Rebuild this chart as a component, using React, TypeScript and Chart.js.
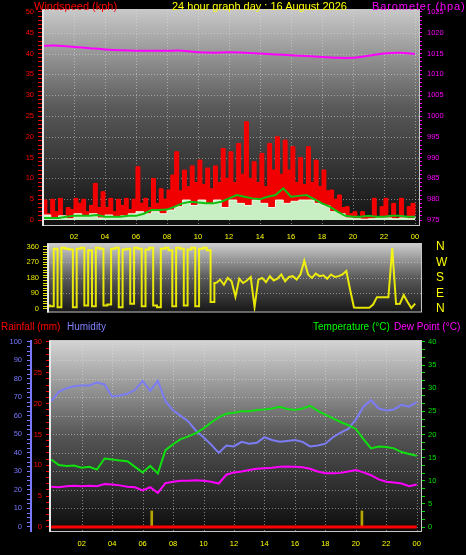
import { useEffect, useRef } from 'react';
import { Chart, registerables } from 'chart.js';
Chart.register(...registerables);

const FONT = "'Liberation Sans', Arial, sans-serif";

// ---------- time axis ----------
const hourTickValues = [2, 4, 6, 8, 10, 12, 14, 16, 18, 20, 22, 24];
const hourTickLabels = ['02', '04', '06', '08', '10', '12', '14', '16', '18', '20', '22', '00'];

// ---------- top panel: wind + barometer ----------
const windTickLabels = [0, 5, 10, 15, 20, 25, 30, 35, 40, 45, 50];
const baroTickLabels = [975, 980, 985, 990, 995, 1000, 1005, 1010, 1015, 1020, 1025];
const baroHours = [0, 1, 2, 3, 4, 5, 6, 7, 8, 9, 10, 11, 12, 13, 14, 15, 16, 17, 18, 19, 20, 21, 22, 23, 24];
const baroHpa = [1016.9, 1016.9, 1016.6, 1016.3, 1016.0, 1015.8, 1015.7, 1015.7, 1015.7, 1015.7, 1015.3, 1015.2, 1015.3, 1015.2, 1015.0, 1014.8, 1014.6, 1014.4, 1014.2, 1014.0, 1014.0, 1014.5, 1015.0, 1015.2, 1014.9];
// gusts, every 15 minutes
const gustKph = [
  4.8, 1.5, 5.0, 2.0,
  5.2, 1.0, 3.0, 2.5,
  5.2, 4.0, 5.0, 2.0,
  3.5, 8.8, 3.0, 6.8,
  3.0, 5.2, 2.0, 5.0,
  3.5, 5.2, 2.5, 5.0,
  12.8, 4.0, 5.2, 3.0,
  10.0, 4.0, 7.5, 5.0,
  7.2, 10.8, 16.4, 7.0,
  12.0, 8.0, 13.0, 9.0,
  14.4, 8.5, 12.5, 7.5,
  13.0, 9.0, 17.2, 10.0,
  16.4, 9.0, 18.4, 11.0,
  23.6, 10.0, 14.0, 9.0,
  16.0, 8.0, 18.4, 12.0,
  20.0, 11.0, 19.2, 12.0,
  17.6, 9.0, 15.0, 8.5,
  17.6, 9.0, 14.4, 8.0,
  12.0, 7.0, 7.2, 5.0,
  6.0, 3.0, 3.2, 1.5,
  2.0, 0.5, 2.0, 1.0,
  1.0, 5.2, 0.5, 3.2,
  5.2, 1.0, 4.0, 0.5,
  5.2, 0.5, 3.2, 4.0,
  1.5,
];
// wind speed, every 30 minutes
const windKph = [1.2, 0.5, 1.0, 0.3, 1.5, 1.0, 1.5, 0.5, 1.2, 0.8, 1.0, 1.5, 2.0, 1.5, 2.0, 1.5, 2.4, 3.2, 4.8, 3.5, 4.8, 4.0, 4.8, 3.0, 4.8, 4.0, 3.5, 4.8, 4.0, 3.0, 4.8, 4.0, 4.5, 4.8, 4.8, 4.0, 3.5, 2.0, 1.5, 0.5, 0.3, 0.2, 0.3, 0.5, 0.5, 0.3, 0.5, 0.3, 1.0];
// average wind, every 30 minutes
const avgKph = [0.5, 0.5, 0.5, 0.8, 1.0, 1.0, 1.0, 1.2, 0.8, 0.8, 0.8, 1.0, 1.0, 1.5, 2.4, 2.4, 2.5, 3.2, 4.0, 4.4, 4.2, 4.0, 4.0, 4.4, 5.2, 6.0, 5.6, 5.2, 5.0, 5.6, 6.0, 7.6, 5.6, 5.8, 6.0, 5.0, 4.0, 3.2, 2.0, 1.0, 0.8, 0.8, 1.0, 0.8, 0.8, 1.0, 1.0, 0.8, 0.8];

// ---------- middle panel: wind direction ----------
const dirTickLabels = [0, 90, 180, 270, 360];
const compassValues = [0, 90, 180, 270, 360];
const compassLabels = ['N', 'E', 'S', 'W', 'N'];
// every 15 minutes; first 44 samples (variable north wind) flip between ~0 and ~360
const dirDeg = [
  20, 15, 350, 10,
  355, 350, 345, 10,
  350, 355, 20, 340,
  15, 355, 350, 20,
  25, 350, 355, 10,
  345, 350, 30, 355,
  350, 15, 345, 355,
  20, 10, 350, 355,
  340, 15, 355, 350,
  20, 345, 355, 15,
  350, 355, 340, 40,
  150, 170, 140, 180,
  160, 70, 175, 150,
  165, 185, 10, 170,
  180, 155, 190, 165,
  175, 200, 160, 185,
  190, 170, 200, 280,
  200, 180, 205, 190,
  195, 175, 200, 185,
  190, 200, 220, 110,
  8, 6, 6, 6,
  6, 25, 68, 68,
  68, 68, 354, 28,
  30, 80, 40, 5,
  30,
];
const variableSamples = 44;

// ---------- bottom panel ----------
const humTickLabels = [0, 10, 20, 30, 40, 50, 60, 70, 80, 90, 100];
const rainTickLabels = [0, 5, 10, 15, 20, 25, 30];
const tempTickLabels = [0, 5, 10, 15, 20, 25, 30, 35, 40];
// every 30 minutes
const humidityPct = [68, 73, 75, 76, 76.5, 76.5, 78, 77, 70.5, 71, 72, 74, 79, 73.5, 79, 68, 63, 60, 57, 52, 48.5, 44.5, 40, 44, 43.5, 46, 45, 45.5, 48.5, 47, 46, 46.5, 47, 46, 43.5, 44, 45, 48.5, 51, 53, 58, 65, 68.5, 64, 63, 63.5, 66, 65, 67.5];
const temperatureC = [14.6, 13.4, 13.2, 13.3, 12.8, 13.0, 12.4, 14.8, 14.6, 14.4, 14.2, 13.0, 11.8, 13.2, 11.6, 16.6, 17.9, 19.0, 19.6, 20.3, 21.3, 22.6, 23.7, 24.5, 24.7, 25.0, 25.0, 25.3, 25.4, 25.6, 26.0, 25.5, 25.3, 25.6, 26.2, 25.1, 24.3, 23.5, 22.7, 22.0, 21.2, 19.0, 17.0, 17.4, 17.3, 17.0, 16.2, 15.8, 15.4];
const dewPointC = [8.7, 8.6, 8.8, 8.9, 8.8, 8.9, 8.8, 9.3, 9.2, 9.0, 8.7, 8.6, 7.9, 8.6, 7.4, 9.5, 9.8, 10.0, 10.0, 10.1, 10.0, 9.8, 9.4, 11.3, 11.8, 12.0, 12.3, 12.6, 12.7, 12.8, 13.0, 13.1, 13.0, 12.9, 12.6, 12.0, 11.6, 11.6, 11.7, 12.0, 12.3, 11.8, 11.2, 10.3, 9.8, 9.6, 9.4, 8.8, 9.2];
const rainHours = [0, 1, 2, 3, 4, 5, 6, 7, 8, 9, 10, 11, 12, 13, 14, 15, 16, 17, 18, 19, 20, 21, 22, 23, 24];
const rainMm = [0, 0, 0, 0, 0, 0, 0, 0, 0, 0, 0, 0, 0, 0, 0, 0, 0, 0, 0, 0, 0, 0, 0, 0, 0];
const rainMarkHours = [6.6, 20.4];
const rainMarkMm = [2.6, 2.6];

// ---------- helpers ----------
const quarterHours = gustKph.map((_, i) => i / 4);
const halfHours = windKph.map((_, i) => i / 2);
const pts = (xs: number[], ys: number[]) => ys.map((y, i) => ({ x: xs[i], y }));

function yAxis(o: any) {
  return {
    type: 'linear',
    position: o.position,
    min: o.min,
    max: o.max,
    weight: o.weight ?? 0,
    afterFit: (s: any) => { s.width = o.width; },
    afterBuildTicks: (s: any) => {
      const lo = o.labels[0];
      const hi = o.labels[o.labels.length - 1];
      const n = Math.round((hi - lo) / o.minorStep);
      const t: any[] = [];
      for (let i = 0; i <= n; i++) t.push({ value: lo + i * o.minorStep });
      s.ticks = t;
    },
    ticks: {
      autoSkip: false,
      color: o.color,
      padding: o.padding,
      font: { family: FONT, size: 7.5 },
      callback: (v: number) => {
        const hit = o.labels.find((l: number) => Math.abs(l - v) < 1e-6);
        return hit === undefined ? '' : String(hit);
      },
    },
    grid: { drawOnChartArea: false, drawTicks: true, tickLength: o.tickLength, tickColor: o.color, tickWidth: 1, color: o.color },
    border: o.border ? { display: true, color: o.border, width: 2 } : { display: false },
  };
}

function xAxis(min: number, max: number, height: number, padding: number, show: boolean) {
  return {
    type: 'linear',
    position: 'bottom',
    min,
    max,
    offset: false,
    display: show,
    afterFit: (s: any) => { s.height = height; },
    afterBuildTicks: (s: any) => { s.ticks = hourTickValues.map((v) => ({ value: v })); },
    ticks: {
      autoSkip: false,
      maxRotation: 0,
      color: '#ffff00',
      padding,
      font: { family: FONT, size: 7.5 },
      callback: (v: number) => {
        const i = hourTickValues.indexOf(v);
        return i < 0 ? '' : hourTickLabels[i];
      },
    },
    grid: { drawOnChartArea: false, drawTicks: false, offset: false },
    border: { display: false },
  };
}

const panelPlugin = {
  id: 'panel',
  beforeDraw(chart: any, _a: any, opts: any) {
    const { ctx, chartArea: a, scales } = chart;
    ctx.save();
    const g = ctx.createLinearGradient(0, a.top, 0, a.bottom);
    opts.stops.forEach((s: any) => g.addColorStop(s[0], s[1]));
    ctx.fillStyle = g;
    ctx.fillRect(a.left, a.top, a.right - a.left, a.bottom - a.top);
    ctx.strokeStyle = 'rgba(225,225,225,0.5)';
    ctx.lineWidth = 1;
    ctx.setLineDash([1, 2]);
    const ys = scales[opts.hScale];
    for (const v of opts.hValues) {
      const y = Math.round(ys.getPixelForValue(v)) + 0.5;
      ctx.beginPath(); ctx.moveTo(a.left, y); ctx.lineTo(a.right, y); ctx.stroke();
    }
    const xs = scales.x;
    for (const v of opts.vValues) {
      const x = Math.round(xs.getPixelForValue(v)) + 0.5;
      ctx.beginPath(); ctx.moveTo(x, a.top); ctx.lineTo(x, a.bottom); ctx.stroke();
    }
    ctx.restore();
  },
  afterDatasetsDraw(chart: any) {
    const { ctx, chartArea: a } = chart;
    ctx.save();
    ctx.strokeStyle = '#c8c8c8';
    ctx.lineWidth = 1;
    ctx.strokeRect(a.left - 0.5, a.top - 0.5, a.right - a.left + 1, a.bottom - a.top + 1);
    ctx.strokeStyle = '#e8e8e8';
    ctx.lineWidth = 2;
    ctx.beginPath(); ctx.moveTo(a.left, a.top); ctx.lineTo(a.left, a.bottom + 1); ctx.stroke();
    ctx.restore();
  },
};

function useChart(ref: any, make: () => any) {
  useEffect(() => {
    const chart = new Chart(ref.current, make());
    return () => chart.destroy();
  }, []);
}

const base = (padding: any) => ({
  responsive: false,
  animation: false,
  devicePixelRatio: 1,
  layout: { padding },
  elements: { point: { radius: 0 } },
});

export default function App() {
  const topRef = useRef<HTMLCanvasElement>(null);
  const midRef = useRef<HTMLCanvasElement>(null);
  const botRef = useRef<HTMLCanvasElement>(null);

  useChart(topRef, () => ({
    type: 'line',
    data: {
      datasets: [
        { data: pts(baroHours, baroHpa), yAxisID: 'yB', borderColor: '#ff00ff', borderWidth: 2, order: 0, tension: 0.3 },
        { data: pts(halfHours, avgKph), yAxisID: 'yW', borderColor: '#10c010', borderWidth: 2, order: 1 },
        { data: pts(halfHours, windKph), yAxisID: 'yW', borderColor: '#e8ffe8', backgroundColor: '#c8efc4', borderWidth: 1, fill: 'origin', stepped: true, order: 2 },
        { data: pts(quarterHours, gustKph), yAxisID: 'yW', borderColor: '#ff0000', backgroundColor: '#f00000', borderWidth: 1, fill: 'origin', stepped: true, order: 3 },
      ],
    },
    options: {
      ...base({ top: 10, left: 0, right: 0, bottom: 0 }),
      plugins: {
        legend: { display: false }, tooltip: { enabled: false },
        panel: { stops: [[0, '#c8c8c8'], [0.45, '#5a5a5a'], [1, '#101010']], hScale: 'yW', hValues: [5, 10, 15, 20, 25, 30, 35, 40, 45], vValues: hourTickValues },
      },
      scales: {
        x: xAxis(0, 24.26, 20, 7, true),
        yW: yAxis({ position: 'left', min: -1.2, max: 50.48, width: 43, color: '#ff0000', labels: windTickLabels, minorStep: 1, tickLength: 5, padding: 4 }),
        yB: yAxis({ position: 'right', min: 973.8, max: 1025.48, width: 47, color: '#ff00ff', labels: baroTickLabels, minorStep: 1, tickLength: 3, padding: 5 }),
      },
    },
    plugins: [panelPlugin],
  }));

  useChart(midRef, () => ({
    type: 'line',
    data: {
      datasets: [
        { data: pts(quarterHours.slice(0, variableSamples + 1), dirDeg.slice(0, variableSamples + 1)), yAxisID: 'yD', borderColor: 'rgba(255,255,0,0.88)', borderWidth: 2, stepped: 'middle' },
        { data: pts(quarterHours.slice(variableSamples), dirDeg.slice(variableSamples)), yAxisID: 'yD', borderColor: 'rgba(255,255,0,0.88)', borderWidth: 2 },
      ],
    },
    options: {
      ...base({ top: 9, left: 0, right: 0, bottom: 7 }),
      plugins: {
        legend: { display: false }, tooltip: { enabled: false },
        panel: { stops: [[0, '#cccccc'], [0.5, '#5a5a5a'], [1, '#181818']], hScale: 'yD', hValues: [90, 180, 270], vValues: [] },
      },
      scales: {
        x: xAxis(0, 24.38, 0, 0, false),
        yD: yAxis({ position: 'left', min: -15.4, max: 377, width: 48, color: '#e6e600', labels: dirTickLabels, minorStep: 15, tickLength: 5, padding: 4 }),
        yC: {
          type: 'linear', position: 'right', min: -15.4, max: 377,
          afterFit: (s: any) => { s.width = 45; },
          afterBuildTicks: (s: any) => { s.ticks = compassValues.map((v) => ({ value: v })); },
          ticks: {
            autoSkip: false, color: '#ffff00', padding: 0, font: { family: FONT, size: 12 },
            callback: (v: number) => compassLabels[compassValues.indexOf(v)],
          },
          grid: { display: true, drawOnChartArea: false, drawTicks: true, tickLength: 15, tickColor: 'rgba(0,0,0,0)' },
          border: { display: false },
        },
      },
    },
    plugins: [panelPlugin],
  }));

  useChart(botRef, () => ({
    type: 'line',
    data: {
      datasets: [
        { data: pts(rainHours, rainMm), yAxisID: 'yR', borderColor: '#ff0000', borderWidth: 3, order: 0 },
        { type: 'bar', data: pts(rainMarkHours, rainMarkMm), yAxisID: 'yR', backgroundColor: '#b4a400', barThickness: 2, grouped: false, order: 1 },
        { data: pts(halfHours, dewPointC), yAxisID: 'yT', borderColor: '#ff00ff', borderWidth: 2, order: 2 },
        { data: pts(halfHours, temperatureC), yAxisID: 'yT', borderColor: '#10e010', borderWidth: 2, order: 3 },
        { data: pts(halfHours, humidityPct), yAxisID: 'yH', borderColor: '#7c7cf4', borderWidth: 2, order: 4 },
      ],
    },
    options: {
      ...base({ top: 21, left: 0, right: 0, bottom: 0 }),
      plugins: {
        legend: { display: false }, tooltip: { enabled: false },
        panel: { stops: [[0, '#d4d4d4'], [0.5, '#555555'], [1, '#0c0c0c']], hScale: 'yH', hValues: [10, 20, 30, 40, 50, 60, 70, 80, 90], vValues: hourTickValues },
      },
      scales: {
        x: xAxis(-0.08, 24.28, 24, 8, true),
        yH: yAxis({ position: 'left', weight: 1, min: -2.2, max: 100.5, width: 31, color: '#7878ff', labels: humTickLabels, minorStep: 2.5, tickLength: 4, padding: 5, border: '#7878ff' }),
        yR: yAxis({ position: 'left', weight: 0, min: -0.65, max: 30.16, width: 19, color: '#ff0000', labels: rainTickLabels, minorStep: 1, tickLength: 4, padding: 4 }),
        yT: yAxis({ position: 'right', min: -0.86, max: 40.2, width: 45, color: '#00e000', labels: tempTickLabels, minorStep: 5 / 3, tickLength: 4, padding: 3 }),
      },
    },
    plugins: [panelPlugin],
  }));

  const txt = (left: number, top: number, size: number, color: string, extra: any = {}) => ({
    position: 'absolute' as const, left, top, fontSize: size, lineHeight: '12px', color, fontFamily: FONT, whiteSpace: 'nowrap' as const, ...extra,
  });

  return (
    <div style={{ position: 'absolute', left: 0, top: 0, width: 466, height: 555, background: '#000', overflow: 'hidden' }}>
      <canvas ref={topRef} width={466} height={245} style={{ position: 'absolute', left: 0, top: 0, width: 466, height: 245 }} />
      <canvas ref={midRef} width={466} height={85} style={{ position: 'absolute', left: 0, top: 235, width: 466, height: 85 }} />
      <canvas ref={botRef} width={466} height={235} style={{ position: 'absolute', left: 0, top: 320, width: 466, height: 235 }} />
      <div style={txt(34, 0, 11, '#ff0000')}>Windspeed (kph)</div>
      <div style={txt(172, 0, 11, '#ffff00')}>24 hour graph day : 16 August 2026</div>
      <div style={txt(372, 0, 11, '#ff00ff', { letterSpacing: '0.9px' })}>Barometer (hpa)</div>
      <div style={txt(1, 321, 10, '#ff0000')}>Rainfall (mm)</div>
      <div style={txt(67, 321, 10, '#8080ff')}>Humidity</div>
      <div style={txt(313, 321, 10, '#00ff00')}>Temperature (°C)</div>
      <div style={txt(394, 321, 10, '#ff00ff')}>Dew Point (°C)</div>
    </div>
  );
}
